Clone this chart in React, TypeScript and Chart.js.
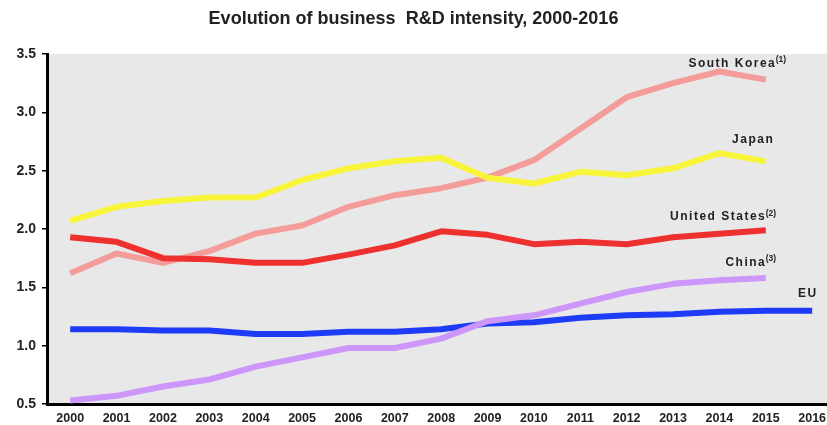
import React, { useEffect, useRef } from 'react';
import { Chart, registerables } from 'chart.js';

Chart.register(...registerables);

const titleText = 'Evolution of business  R&D intensity, 2000-2016';
const years = [2000, 2001, 2002, 2003, 2004, 2005, 2006, 2007, 2008, 2009, 2010, 2011, 2012, 2013, 2014, 2015, 2016];

const southKorea = [1.62, 1.79, 1.71, 1.81, 1.96, 2.03, 2.19, 2.29, 2.35, 2.44, 2.59, 2.86, 3.13, 3.25, 3.35, 3.28];
const japan = [2.07, 2.19, 2.24, 2.27, 2.27, 2.42, 2.52, 2.58, 2.61, 2.44, 2.39, 2.49, 2.46, 2.52, 2.65, 2.58];
const unitedStates = [1.93, 1.89, 1.75, 1.74, 1.71, 1.71, 1.78, 1.86, 1.98, 1.95, 1.87, 1.89, 1.87, 1.93, 1.96, 1.99];
const china = [0.53, 0.57, 0.65, 0.71, 0.82, 0.90, 0.98, 0.98, 1.06, 1.21, 1.26, 1.36, 1.46, 1.53, 1.56, 1.58];
const eu = [1.14, 1.14, 1.13, 1.13, 1.10, 1.10, 1.12, 1.12, 1.14, 1.19, 1.20, 1.24, 1.26, 1.27, 1.29, 1.30, 1.30];

const seriesNames = ['United States', 'China', 'EU', 'Japan', 'South Korea'];
const seriesNotes = ['(2)', '(3)', '', '', '(1)'];
const seriesValues = [unitedStates, china, eu, japan, southKorea];
const seriesColors = ['#ee302e', '#cc96fa', '#1e3cf8', '#f8f43a', '#f49c9a'];

// label offsets (px) relative to each series' last point: right edge of main text, vertical centre
const labelOffsets = [
  { dx: -1, dy: -13 },
  { dx: -1, dy: -15 },
  { dx: 4, dy: -17 },
  { dx: 7, dy: -22 },
  { dx: 9, dy: -16 },
];

const FONT = "'Liberation Sans', Arial, sans-serif";

const bgPlugin = {
  id: 'plotBg',
  beforeDraw(chart: any) {
    const { ctx, chartArea } = chart;
    ctx.save();
    ctx.fillStyle = '#e8e8e8';
    ctx.fillRect(chartArea.left, chartArea.top, chartArea.right - chartArea.left, chartArea.bottom - chartArea.top);
    ctx.restore();
  },
};

const labelPlugin = {
  id: 'seriesLabels',
  afterDatasetsDraw(chart: any) {
    const { ctx } = chart;
    ctx.save();
    chart.data.datasets.forEach((ds: any, i: number) => {
      const meta = chart.getDatasetMeta(i);
      const pt = meta.data[meta.data.length - 1];
      if (!pt) return;
      const off = labelOffsets[i];
      const x = pt.x + off.dx;
      const y = pt.y + off.dy;
      ctx.fillStyle = '#222';
      ctx.textBaseline = 'middle';
      ctx.textAlign = 'right';
      (ctx as any).letterSpacing = '1.5px';
      ctx.font = `bold 12px ${FONT}`;
      ctx.fillText(seriesNames[i], x + 1.5, y);
      if (seriesNotes[i]) {
        (ctx as any).letterSpacing = '0px';
        ctx.textAlign = 'left';
        ctx.font = `bold 8.5px ${FONT}`;
        ctx.fillText(seriesNotes[i], x + 1, y - 4);
      }
    });
    ctx.restore();
  },
};

export default function App() {
  const canvasRef = useRef<HTMLCanvasElement | null>(null);

  useEffect(() => {
    if (!canvasRef.current) return;
    const chart = new Chart(canvasRef.current, {
      type: 'line',
      data: {
        datasets: seriesValues.map((vals, i) => ({
          label: seriesNames[i],
          data: vals.map((v, j) => ({ x: years[j], y: v })),
          borderColor: seriesColors[i],
          backgroundColor: seriesColors[i],
          borderWidth: 6,
          pointRadius: 0,
          tension: 0,
          borderJoinStyle: 'round' as const,
          fill: false,
        })),
      },
      options: {
        animation: false,
        responsive: false,
        maintainAspectRatio: false,
        layout: { padding: { top: 0, left: 0, right: 0, bottom: 0 } },
        plugins: {
          legend: { display: false },
          tooltip: { enabled: false },
          title: {
            display: true,
            text: titleText,
            color: '#222',
            font: { family: FONT, size: 18, weight: 'bold', lineHeight: 1.2 },
            padding: { top: 8, bottom: 24.4 },
          },
        },
        scales: {
          x: {
            type: 'linear',
            min: 1999.5,
            max: 2016.32,
            afterFit(scale: any) {
              scale.height = 21;
              scale.paddingLeft = 0;
              scale.paddingRight = 0;
            },
            ticks: {
              stepSize: 1,
              includeBounds: false,
              autoSkip: false,
              maxTicksLimit: 40,
              maxRotation: 0,
              padding: 7,
              color: '#222',
              font: { family: FONT, size: 12.5, weight: 'bold' },
              callback: (v: any) => String(v),
            },
            grid: { drawOnChartArea: false, drawTicks: false },
            border: { display: true, color: '#000', width: 3 },
          },
          y: {
            min: 0.5,
            max: 3.5,
            afterFit(scale: any) {
              scale.width = 47;
            },
            ticks: {
              stepSize: 0.5,
              padding: 6,
              color: '#222',
              font: { family: FONT, size: 14, weight: 'bold' },
              callback: (v: any) => Number(v).toFixed(1),
            },
            grid: { drawOnChartArea: false, drawTicks: true, tickLength: 5, color: '#000', lineWidth: 1.5 },
            border: { display: true, color: '#000', width: 3 },
          },
        },
      },
      plugins: [bgPlugin, labelPlugin],
    });
    return () => chart.destroy();
  }, []);

  return (
    <div style={{ position: 'fixed', left: 0, top: 0, width: 827, height: 425, background: '#fff' }}>
      <canvas ref={canvasRef} width={827} height={425} style={{ display: 'block' }} />
    </div>
  );
}
